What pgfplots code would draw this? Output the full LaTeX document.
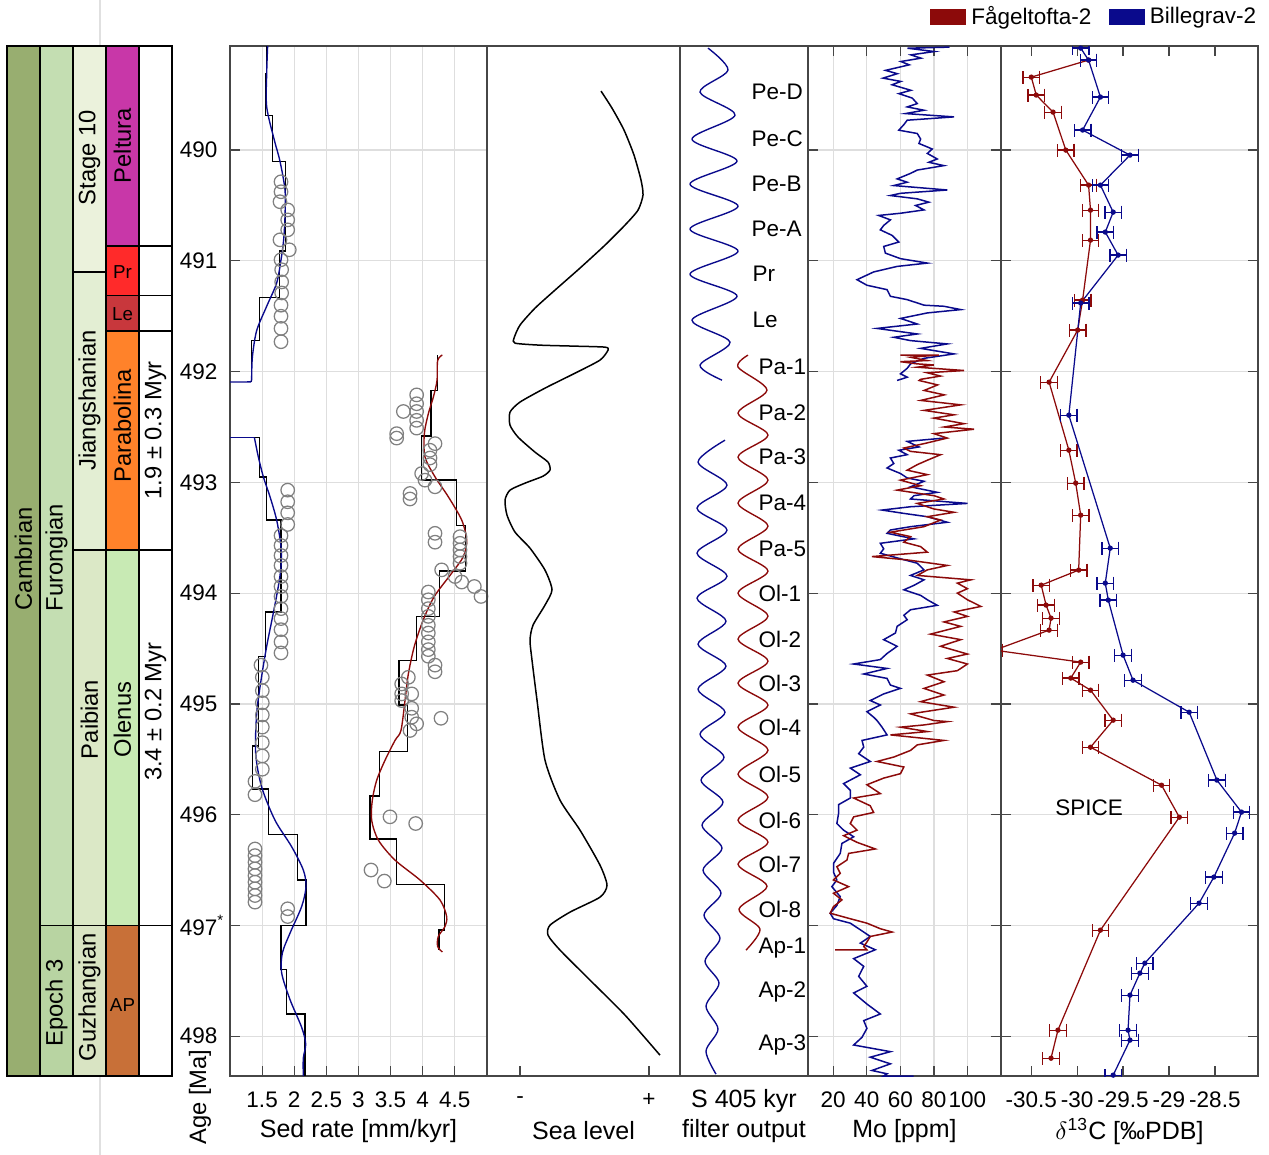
\documentclass[border=0pt]{standalone}
\usepackage{fontspec}
\setmainfont{Liberation Sans}
\usepackage{pgfplots}
\pgfplotsset{compat=1.18}

\definecolor{fagc}{RGB}{140,10,10}
\definecolor{bilc}{RGB}{10,10,140}
\definecolor{frame}{RGB}{70,70,70}
\definecolor{cambrian}{RGB}{152,174,112}
\definecolor{furongian}{RGB}{196,222,178}
\definecolor{epochthree}{RGB}{184,212,162}
\definecolor{stageten}{RGB}{235,242,220}
\definecolor{jiang}{RGB}{227,238,211}
\definecolor{paib}{RGB}{219,232,198}
\definecolor{guzh}{RGB}{217,228,195}
\definecolor{peltura}{RGB}{200,55,168}
\definecolor{przone}{RGB}{255,42,42}
\definecolor{lezone}{RGB}{200,55,60}
\definecolor{parab}{RGB}{255,130,42}
\definecolor{olenus}{RGB}{200,234,180}
\definecolor{apzone}{RGB}{200,112,56}

\newcommand\fs{\fontsize{9}{10.8}\selectfont}
\newcommand\fl{\fontsize{10}{12}\selectfont}
\newcommand\fc{\fontsize{9.5}{11}\selectfont}
\newcommand\fss{\fontsize{7.5}{9}\selectfont}
% one box of the stratigraphic column: x0 x1 top bottom colour
\newcommand\strat[5]{\addplot[fill=#5,draw=black,line width=0.5pt] coordinates {(#1,#3)(#2,#3)(#2,#4)(#1,#4)} --cycle;}

\pgfplotsset{
  panel/.style={
    scale only axis, height=412pt, anchor=north west,
    ymin=489.06, ymax=498.36, y dir=reverse,
    ytick={490,491,...,498}, yticklabels={},
    axis line style={frame, line width=0.5pt},
    every tick/.style={frame, line width=0.5pt},
    major tick length=4pt, tick align=inside,
    grid style={black!13, line width=0.5pt},
    tick label style={font=\fs}, label style={font=\fl},
    /pgf/number format/assume math mode=true,
    xticklabel style={anchor=center, yshift=-9.6pt},
    xlabel style={at={(axis description cs:0.5,0)}, anchor=center, yshift=-22pt},
  },
}

\begin{document}
\begin{tikzpicture}
\useasboundingbox (0pt,0pt) rectangle (507.6pt,-462pt);
\draw[black!12, line width=0.5pt] (40pt,0pt) -- (40pt,-18.4pt);
\draw[black!12, line width=0.5pt] (40pt,-430.4pt) -- (40pt,-462pt);

% ---------- stratigraphic column ----------
\begin{axis}[scale only axis, at={(2.8pt,-18.4pt)}, anchor=north west,
  width=66pt, height=412pt, xmin=0, xmax=5, ymin=489.06, ymax=498.36,
  y dir=reverse, hide axis, clip=false]
\strat{0}{1}{489.06}{498.36}{cambrian}
\strat{1}{2}{489.06}{497.0}{furongian}
\strat{1}{2}{497.0}{498.36}{epochthree}
\strat{2}{3}{489.06}{491.10}{stageten}
\strat{2}{3}{491.10}{493.61}{jiang}
\strat{2}{3}{493.61}{497.0}{paib}
\strat{2}{3}{497.0}{498.36}{guzh}
\strat{3}{4}{489.06}{490.865}{peltura}
\strat{3}{4}{490.865}{491.315}{przone}
\strat{3}{4}{491.315}{491.634}{lezone}
\strat{3}{4}{491.634}{493.61}{parab}
\strat{3}{4}{493.61}{497.0}{olenus}
\strat{3}{4}{497.0}{498.36}{apzone}
\strat{4}{5}{489.06}{490.865}{white}
\strat{4}{5}{490.865}{491.315}{white}
\strat{4}{5}{491.315}{491.634}{white}
\strat{4}{5}{491.634}{493.61}{white}
\strat{4}{5}{493.61}{497.0}{white}
\strat{4}{5}{497.0}{498.36}{white}
\node[rotate=90,font=\fc] at (axis cs:0.5,493.69) {Cambrian};
\node[rotate=90,font=\fc] at (axis cs:1.5,493.68) {Furongian};
\node[rotate=90,font=\fc] at (axis cs:1.5,497.70) {Epoch 3};
\node[rotate=90,font=\fc] at (axis cs:2.5,490.07) {Stage 10};
\node[rotate=90,font=\fc] at (axis cs:2.5,492.26) {Jiangshanian};
\node[rotate=90,font=\fc] at (axis cs:2.5,495.14) {Paibian};
\node[rotate=90,font=\fc] at (axis cs:2.5,497.65) {Guzhangian};
\node[rotate=90,font=\fc] at (axis cs:3.5,489.96) {Peltura};
\node[font=\fss] at (axis cs:3.5,491.10) {Pr};
\node[font=\fss] at (axis cs:3.5,491.48) {Le};
\node[rotate=90,font=\fc] at (axis cs:3.5,492.49) {Parabolina};
\node[rotate=90,font=\fc] at (axis cs:3.5,495.14) {Olenus};
\node[font=\fss] at (axis cs:3.5,497.72) {AP};
\node[rotate=90,font=\fc] at (axis cs:4.5,492.53) {1.9 ± 0.3 Myr};
\node[rotate=90,font=\fc] at (axis cs:4.5,495.07) {3.4 ± 0.2 Myr};
\end{axis}

\node[rotate=90,font=\fc] at (80pt,-438.8pt) {Age [Ma]};

% ---------- sedimentation rate ----------
\begin{axis}[panel, at={(92pt,-18.4pt)}, width=102.8pt, xmin=1, xmax=5,
  xtick={1.5,2,2.5,3,3.5,4,4.5}, xticklabels={1.5,2,2.5,3,3.5,4,4.5},
  yticklabels={490,491,492,493,494,495,496,497\rlap{\textsuperscript{*}},498},
  yticklabel style={xshift=-1.5pt},
  xtick pos=left, ytick pos=left, xmajorgrids, ymajorgrids,
  xlabel={Sed rate [mm/kyr]}]
\addplot[only marks, mark=o, mark size=2.7pt, black!50, mark options={line width=0.5pt}] coordinates {
(1.794,490.286)(1.794,490.376)(1.778,490.466)(1.898,490.54)(1.898,490.63)(1.898,490.72)(1.778,490.81)(1.923,490.90)
(1.794,490.99)(1.804,491.08)(1.804,491.19)(1.804,491.29)(1.794,491.40)(1.794,491.50)(1.794,491.61)(1.794,491.73)
(1.898,493.07)(1.898,493.175)(1.898,493.275)(1.898,493.38)(1.794,493.48)(1.794,493.57)(1.794,493.66)(1.794,493.75)
(1.794,493.85)(1.794,493.94)(1.794,494.03)(1.794,494.14)(1.794,494.23)(1.794,494.33)(1.794,494.44)(1.794,494.54)
(1.482,494.65)(1.503,494.76)(1.503,494.88)(1.503,494.99)(1.503,495.10)(1.503,495.21)(1.503,495.35)(1.503,495.47)
(1.503,495.59)(1.389,495.70)(1.389,495.82)
(1.389,496.31)(1.389,496.37)(1.389,496.43)(1.389,496.49)(1.389,496.55)(1.389,496.61)(1.389,496.67)(1.389,496.73)
(1.389,496.79)(1.898,496.85)(1.898,496.92)
(3.905,492.21)(3.905,492.29)(3.905,492.36)(3.905,492.44)(3.905,492.51)(3.698,492.36)(3.594,492.56)(3.594,492.60)
(4.191,492.65)(4.113,492.71)(4.113,492.78)(4.113,492.84)(3.983,492.92)(4.035,492.98)(4.191,493.04)(3.802,493.10)
(3.802,493.15)(4.191,493.46)(4.191,493.54)(4.580,493.49)(4.580,493.55)(4.580,493.61)(4.580,493.67)(4.580,493.73)
(4.294,493.79)(4.502,493.85)(4.606,493.90)(4.803,493.94)(4.907,494.03)(4.087,493.99)(4.087,494.06)(4.087,494.14)
(4.087,494.21)(4.087,494.29)(4.087,494.36)(4.087,494.44)(4.087,494.51)(4.087,494.57)(4.191,494.65)(4.191,494.71)
(3.776,494.76)(3.672,494.82)(3.672,494.91)(3.672,494.97)(3.828,494.91)(3.828,495.04)(3.828,495.12)(4.284,495.13)
(3.905,495.18)(3.802,495.24)(3.490,496.02)(3.890,496.08)(3.195,496.50)(3.402,496.60)
};
% step curves
\addplot[black, line width=0.55pt] coordinates {
(1.571,489.06)(1.571,489.31)(1.555,489.31)(1.555,489.69)(1.664,489.69)(1.664,490.10)(1.861,490.10)(1.861,490.91)
(1.768,490.91)(1.768,491.33)(1.457,491.33)(1.457,491.72)(1.337,491.72)(1.337,492.09)};
\addplot[black, line width=0.55pt] coordinates {
(1.379,492.595)(1.457,492.595)(1.457,492.95)(1.571,492.95)(1.571,493.34)(1.794,493.34)(1.794,494.17)(1.555,494.17)
(1.555,494.57)(1.441,494.57)(1.441,495.38)(1.348,495.38)(1.348,495.77)(1.597,495.77)(1.597,496.18)(2.053,496.18)
(2.053,496.59)(2.183,496.59)(2.183,497.00)(1.794,497.00)(1.794,497.40)(1.882,497.40)(1.882,497.80)(2.167,497.80)
(2.167,498.36)};
\addplot[black, line width=0.55pt] coordinates {
(4.232,491.85)(4.232,492.17)(4.128,492.17)(4.128,492.58)(3.983,492.58)(3.983,492.98)(4.528,492.98)(4.528,493.39)
(4.668,493.39)(4.668,493.80)(4.258,493.80)(4.258,494.21)(3.905,494.21)(3.905,494.61)(3.630,494.61)(3.630,495.01)
(3.765,495.01)(3.765,495.43)(3.324,495.43)(3.324,495.83)(3.179,495.83)(3.179,496.22)(3.594,496.22)(3.594,496.63)
(4.336,496.63)(4.336,497.04)(4.253,497.04)(4.253,497.22)};
% smoothed rates
\addplot[bilc, line width=0.55pt, smooth] coordinates {
(1.586,489.06)(1.571,489.307)(1.571,489.609)(1.690,489.91)(1.778,490.10)(1.856,490.36)(1.856,490.60)(1.835,490.81)
(1.794,490.99)(1.726,491.20)(1.571,491.41)(1.415,491.63)(1.348,491.87)(1.337,492.08)};
\addplot[bilc, line width=0.55pt] coordinates {(1.337,492.08)(1.32,492.093)(0.5,492.095)};
\addplot[bilc, line width=0.55pt] coordinates {(0.5,492.594)(1.379,492.594)};
\addplot[bilc, line width=0.55pt, smooth] coordinates {
(1.379,492.594)(1.441,492.77)(1.519,492.95)(1.623,493.13)(1.726,493.34)(1.794,493.58)(1.794,493.76)(1.752,493.94)
(1.674,494.18)(1.571,494.48)(1.482,494.79)(1.415,495.09)(1.400,495.45)(1.493,495.75)(1.700,496.05)(1.960,496.29)
(2.141,496.50)(2.183,496.65)(2.115,496.83)(1.934,497.07)(1.815,497.25)(1.804,497.43)(1.934,497.67)(2.115,497.92)
(2.178,498.07)(2.141,498.20)(2.141,498.36)};
\addplot[fagc, line width=0.55pt, smooth] coordinates {
(4.305,491.85)(4.232,491.90)(4.222,492.08)(4.165,492.23)(4.087,492.38)(4.025,492.56)(4.035,492.77)(4.191,492.95)
(4.398,493.13)(4.606,493.34)(4.684,493.52)(4.632,493.67)(4.450,493.82)(4.180,494.03)(4.009,494.24)(3.869,494.48)
(3.776,494.73)(3.724,494.97)(3.661,495.24)(3.568,495.33)(3.412,495.51)(3.283,495.69)(3.215,495.87)(3.205,496.05)
(3.309,496.23)(3.568,496.41)(3.957,496.59)(4.268,496.77)(4.372,496.92)(4.346,497.01)(4.242,497.10)(4.232,497.19)
(4.305,497.24)};
\end{axis}

% ---------- sea level ----------
\begin{axis}[panel, at={(194.8pt,-18.4pt)}, width=77.2pt, xmin=0, xmax=193,
  xtick={33,162}, xticklabels={-,+}, xtick pos=left, ytick=\empty,
  xlabel={Sea level}]
\addplot[black, line width=0.6pt, smooth, tension=0.4] coordinates {
(114,489.467)(125,489.621)(137,489.819)(147,490.045)(154,490.271)(156,490.406)(151,490.542)(138,490.677)
(118,490.858)(93,491.065)(68,491.264)(48,491.427)(33,491.580)(27,491.698)(28,491.743)(53,491.761)
(88,491.77)(118,491.779)(121,491.806)(113,491.896)(88,492.014)(58,492.149)(33,492.275)(23,492.366)
(23,492.483)(31,492.591)(48,492.727)(61,492.817)(63,492.889)(56,492.944)(38,493.007)(23,493.070)
(18,493.160)(20,493.296)(28,493.449)(43,493.594)(58,493.792)(65,493.97)(58,494.108)(46,494.289)
(43,494.424)(45,494.605)(50,494.966)(58,495.508)(73,495.869)(93,496.140)(113,496.456)(120,496.637)
(113,496.745)(83,496.88)(63,496.998)(61,497.088)(73,497.223)(103,497.494)(138,497.810)(173,498.172)};
\end{axis}

% ---------- 405 kyr filter ----------
\begin{axis}[panel, at={(272pt,-18.4pt)}, width=51.2pt, xmin=0, xmax=128,
  xtick=\empty, ytick=\empty, clip=false, xlabel={S 405 kyr\\filter output},
  xlabel style={align=center, yshift=6pt, font=\fontsize{10}{12}\selectfont}]
\addplot[bilc, line width=0.55pt, smooth] coordinates {
(28,489.079)(48,489.278)(20,489.476)(55,489.684)(12,489.901)(57,490.099)(10,490.307)(58,490.506)
(10,490.713)(58,490.912)(10,491.120)(57,491.318)(12,491.535)(50,491.734)(20,491.941)(42,492.077)};
\addplot[bilc, line width=0.55pt, smooth] coordinates {
(45,492.619)(18,492.817)(47,493.025)(17,493.233)(47,493.431)(17,493.639)(47,493.847)(17,494.045)
(46,494.253)(18,494.460)(46,494.659)(18,494.867)(45,495.075)(20,495.273)(44,495.481)(21,495.688)
(43,495.887)(22,496.095)(42,496.302)(23,496.501)(41,496.709)(24,496.907)(40,497.115)(25,497.323)
(39,497.521)(26,497.729)(38,497.937)(26,498.135)(36,498.343)};
\addplot[fagc, line width=0.55pt, smooth] coordinates {
(68,491.851)(58,491.959)(87,492.167)(58,492.375)(88,492.573)(58,492.772)(88,492.980)(58,493.187)
(88,493.395)(58,493.603)(88,493.801)(58,494.000)(88,494.208)(58,494.415)(88,494.614)(58,494.813)
(88,495.011)(58,495.210)(88,495.418)(58,495.634)(88,495.842)(58,496.050)(88,496.248)(58,496.447)
(87,496.646)(59,496.853)(80,497.034)(66,497.223)};
\begin{scope}[every node/.style={anchor=west, inner sep=0pt, font=\fs}]
\node at (axis cs:71,489.476) {Pe-D};
\node at (axis cs:71,489.901) {Pe-C};
\node at (axis cs:71,490.307) {Pe-B};
\node at (axis cs:71,490.713) {Pe-A};
\node at (axis cs:72,491.120) {Pr};
\node at (axis cs:72,491.535) {Le};
\node at (axis cs:78,491.959) {Pa-1};
\node at (axis cs:78,492.375) {Pa-2};
\node at (axis cs:78,492.772) {Pa-3};
\node at (axis cs:78,493.187) {Pa-4};
\node at (axis cs:78,493.603) {Pa-5};
\node at (axis cs:78,494.000) {Ol-1};
\node at (axis cs:78,494.415) {Ol-2};
\node at (axis cs:78,494.813) {Ol-3};
\node at (axis cs:78,495.210) {Ol-4};
\node at (axis cs:78,495.634) {Ol-5};
\node at (axis cs:78,496.050) {Ol-6};
\node at (axis cs:78,496.447) {Ol-7};
\node at (axis cs:78,496.853) {Ol-8};
\node at (axis cs:78,497.205) {Ap-1};
\node at (axis cs:78,497.603) {Ap-2};
\node at (axis cs:78,498.081) {Ap-3};
\end{scope}
\end{axis}

% ---------- Mo ----------
\begin{axis}[panel, at={(323.2pt,-18.4pt)}, width=77.2pt, xmin=5, xmax=120,
  xtick={20,40,60,80,100}, xticklabels={20,40,60,80,100},
  xtick pos=both, ytick pos=both, xmajorgrids, ymajorgrids,
  xlabel={Mo [ppm]}]
\addplot[bilc, line width=0.6pt] coordinates {
(89.3,489.07)(64.3,489.08)(80.3,489.11)(66.3,489.14)(72.3,489.17)(60.3,489.20)(65.3,489.23)(51.2,489.28)
(58.2,489.31)(49.7,489.35)(60.3,489.38)(55.1,489.41)(66.3,489.46)(59.1,489.49)(67.1,489.53)(70.1,489.58)
(64.1,489.61)(74.1,489.64)(63.1,489.67)(92.0,489.70)(64.1,489.73)(62.1,489.77)(59.1,489.82)(70.1,489.85)
(72.1,489.90)(71.1,489.94)(79.0,489.99)(76.1,490.03)(82.0,490.08)(77.0,490.11)(86.0,490.14)(70.1,490.18)
(66.1,490.21)(58.1,490.26)(64.1,490.29)(56.1,490.32)(88.0,490.36)(60.1,490.39)(54.1,490.41)(70.1,490.44)
(77.0,490.47)(69.1,490.50)(74.1,490.54)(60.1,490.57)(47.1,490.59)(54.1,490.63)(50.1,490.68)(48.1,490.72)
(55.1,490.77)(59.1,490.83)(50.1,490.87)(51.1,490.93)(60.1,490.98)(76.1,491.02)(58.1,491.05)(44.1,491.10)
(34.2,491.17)(40.1,491.22)(52.1,491.26)(54.1,491.32)(64.1,491.35)(74.1,491.40)(86.0,491.41)(96.0,491.44)
(76.1,491.47)(60.1,491.52)(70.1,491.57)(46.1,491.61)(70.1,491.66)(56.1,491.69)(66.1,491.72)(88.0,491.75)
(72.1,491.79)(92.0,491.84)(74.1,491.88)(66.1,491.93)(64.1,491.97)(60.1,492.02)(64.1,492.05)(58.1,492.08)};
\addplot[bilc, line width=0.6pt] coordinates {
(86.0,492.60)(64.1,492.63)(71.1,492.68)(59.1,492.71)(64.1,492.75)(54.1,492.78)(56.1,492.83)(52.1,492.87)
(60.1,492.92)(64.1,492.96)(74.1,492.99)(66.1,493.04)(82.0,493.09)(68.1,493.12)(66.1,493.15)(100.0,493.19)
(66.1,493.22)(49.1,493.25)(62.1,493.28)(76.1,493.31)(88.0,493.36)(66.1,493.40)(54.1,493.43)(52.1,493.46)
(68.1,493.51)(48.1,493.55)(50.1,493.60)(48.1,493.64)(60.1,493.69)(70.1,493.73)(74.1,493.79)(66.1,493.84)
(74.1,493.88)(68.1,493.93)(62.1,493.97)(72.1,494.02)(76.1,494.06)(82.0,494.11)(66.1,494.15)(62.1,494.20)
(64.1,494.24)(58.1,494.30)(57.1,494.36)(50.1,494.42)(58.1,494.48)(52.1,494.545)(48.1,494.60)(32.2,494.64)
(52.1,494.68)(38.2,494.73)(52.1,494.77)(54.1,494.83)(60.1,494.86)(50.1,494.91)(42.1,494.97)(48.1,495.01)
(40.1,495.07)(44.1,495.12)(46.1,495.15)(49.1,495.21)(52.1,495.28)(37.2,495.33)(38.2,495.39)(35.2,495.45)
(42.1,495.52)(30.2,495.58)(36.2,495.64)(26.2,495.72)(30.2,495.78)(30.2,495.85)(23.2,495.91)(23.2,495.99)
(22.2,496.08)(26.2,496.14)(32.2,496.20)(25.2,496.26)(24.2,496.35)(20.2,496.44)(20.2,496.52)(22.2,496.59)
(19.2,496.65)(24.2,496.74)(22.2,496.82)(18.2,496.89)(20.2,496.94)(30.2,496.98)(36.2,497.04)(42.1,497.10)
(36.2,497.16)(45.1,497.22)(32.2,497.30)(38.2,497.37)(35.2,497.46)(40.1,497.55)(32.2,497.61)(40.1,497.71)
(48.1,497.80)(38.2,497.86)(40.1,497.93)(37.2,498.01)(32.2,498.08)(54.1,498.14)(42.1,498.19)(54.1,498.25)
(43.1,498.31)(52.1,498.34)(50,498.36)(68,498.36)};
\addplot[fagc, line width=0.6pt] coordinates {
(60.1,491.85)(83.0,491.85)(66,491.87)(76,491.90)(60,491.91)(70,491.93)(80,491.94)(70,491.96)
(98,491.99)(76,492.01)(84,492.04)(72,492.07)(71.2,492.08)(82.2,492.12)(74.2,492.17)(86.2,492.21)
(72.2,492.26)(96.0,492.30)(74.2,492.35)(92.0,492.39)(80.0,492.42)(98.0,492.47)(86.2,492.50)(104,492.52)
(80.0,492.56)(88.0,492.60)(74.2,492.65)(62.1,492.69)(66.1,492.72)(84.0,492.75)(76.1,492.80)(70.1,492.84)
(64.1,492.89)(76.1,492.93)(60.1,492.98)(72.1,493.03)(58.1,493.07)(80.0,493.12)(86.0,493.15)(70.1,493.19)
(80.0,493.24)(92.0,493.27)(76.1,493.31)(84.0,493.34)(74.1,493.40)(54.1,493.45)(66.1,493.49)(62.1,493.54)
(72.1,493.58)(76.1,493.63)(43.1,493.67)(64.1,493.70)(88.0,493.75)(76.1,493.79)(70.1,493.84)(102,493.88)
(94.0,493.91)(100,493.96)(94.0,494.00)(100,494.06)(108,494.12)(92.0,494.17)(100,494.21)(86.0,494.26)
(96.0,494.30)(78.0,494.37)(96.0,494.42)(84.0,494.48)(100,494.55)(88.0,494.59)(100,494.64)(94.0,494.70)
(76.1,494.74)(86.0,494.80)(74.1,494.86)(86.0,494.92)(72.1,494.98)(92.0,495.03)(66.1,495.09)(80,495.15)
(88,495.16)(74.2,495.19)(60.1,495.21)(76.2,495.25)(54.1,495.28)(86.0,495.33)(70.1,495.37)(66.1,495.42)
(56.1,495.48)(46.1,495.52)(62.1,495.57)(60.1,495.63)(50.1,495.67)(40.1,495.73)(48.1,495.81)(32.2,495.85)
(42.1,495.92)(44.1,495.98)(32.2,496.02)(30.2,496.08)(34.2,496.14)(26.2,496.19)(34.2,496.25)(45.1,496.31)
(29.2,496.35)(28.2,496.41)(22.2,496.47)(24.2,496.53)(20.2,496.59)(29.2,496.65)(20.2,496.71)(25.2,496.77)
(20.2,496.83)(18.2,496.89)(30.2,496.94)(40.1,496.98)(48.1,497.03)(55.1,497.06)(42.1,497.10)(40.1,497.15)
(38.2,497.19)(40,497.22)(21.2,497.22)};
\end{axis}

% ---------- carbon isotopes ----------
\begin{axis}[panel, at={(400.4pt,-18.4pt)}, width=102.8pt, xmin=-30.83, xmax=-28.03,
  xtick={-30.5,-30,-29.5,-29,-28.5}, xticklabels={-30.5,-30,-29.5,-29,-28.5},
  xtick pos=both, ytick pos=both, ymajorgrids,
  xlabel={$\delta$\textsuperscript{13}C [‰PDB]},
  legend style={at={(1,1)}, anchor=south east, xshift=1.5pt, yshift=5pt, draw=none, fill=none,
    font=\fs, inner sep=0pt, /tikz/every even column/.append style={column sep=5pt}},
  legend columns=2, legend cell align=left,
  legend image code/.code={\fill[#1] (0pt,-3pt) rectangle (14pt,3pt);}]
\addplot[fagc, line width=0.5pt, mark=*, mark size=0.8pt, forget plot,
  error bars/.cd, x dir=both, x fixed=0.09, error mark=|,
  error bar style={fagc, line width=0.5pt}, error mark options={fagc, mark size=2.6pt, line width=0.5pt}]
coordinates {
(-29.876,489.187)(-30.500,489.341)(-30.446,489.503)(-30.263,489.657)(-30.124,490.000)(-29.876,490.316)
(-29.855,490.542)(-29.855,490.813)(-29.941,491.354)(-29.995,491.625)(-30.306,492.095)(-30.091,492.709)
(-30.016,493.007)(-29.962,493.296)(-29.984,493.792)(-30.392,493.928)(-30.339,494.108)(-30.285,494.226)
(-30.306,494.334)(-30.900,494.515)(-29.962,494.623)(-30.070,494.767)(-29.855,494.876)(-29.608,495.147)
(-29.855,495.391)(-29.081,495.734)(-28.887,496.023)(-29.747,497.043)(-30.210,497.946)(-30.285,498.199)};
\addplot[bilc, line width=0.5pt, mark=*, mark size=0.8pt, forget plot,
  error bars/.cd, x dir=both, x fixed=0.09, error mark=|,
  error bar style={bilc, line width=0.5pt}, error mark options={bilc, mark size=2.6pt, line width=0.5pt}]
coordinates {
(-29.962,489.079)(-29.876,489.187)(-29.747,489.521)(-29.941,489.819)(-29.425,490.045)(-29.747,490.316)
(-29.608,490.560)(-29.694,490.740)(-29.554,490.948)(-29.962,491.381)(-30.091,492.393)(-29.640,493.594)
(-29.694,493.910)(-29.661,494.063)(-29.500,494.560)(-29.392,494.786)(-28.780,495.075)(-28.478,495.688)
(-28.210,495.977)(-28.285,496.167)(-28.511,496.564)(-28.672,496.799)(-29.263,497.341)(-29.317,497.431)
(-29.425,497.630)(-29.446,497.946)(-29.425,498.036)(-29.608,498.352)};
\node[font=\fs] at (axis cs:-29.87,495.94) {SPICE};
\addlegendimage{fagc}\addlegendentry{Fågeltofta-2}
\addlegendimage{bilc}\addlegendentry{Billegrav-2}
\end{axis}
\end{tikzpicture}
\end{document}
